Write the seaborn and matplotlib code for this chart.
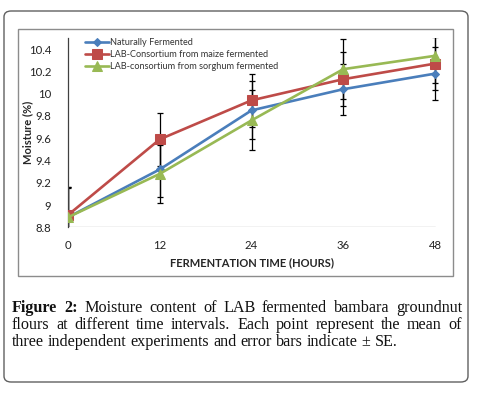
import numpy as np
import pandas as pd
import matplotlib
matplotlib.use("Agg")
import matplotlib.pyplot as plt
import seaborn as sns
from matplotlib.patches import FancyBboxPatch, Rectangle

# data
time_h = [0, 12, 24, 36, 48]
natural = [8.89, 9.32, 9.85, 10.04, 10.18]
maize = [8.91, 9.59, 9.94, 10.13, 10.27]
sorghum = [8.89, 9.28, 9.76, 10.22, 10.34]
se_natural = [0.26, 0.25, 0.26, 0.23, 0.24]
se_maize = [0.25, 0.24, 0.24, 0.24, 0.24]
se_sorghum = [0.27, 0.26, 0.27, 0.27, 0.245]
y_ticks = [8.8, 9.0, 9.2, 9.4, 9.6, 9.8, 10.0, 10.2, 10.4]
y_ticklabels = ["8.8", "9", "9.2", "9.4", "9.6", "9.8", "10", "10.2", "10.4"]

names = ["Naturally Fermented",
         "LAB-Consortium from maize fermented",
         "LAB-consortium from sorghum fermented"]
colors = ["#4A7EBB", "#BE4B48", "#98B954"]
markers = ["D", "s", "^"]
msizes = [4, 6.5, 6.5]

df = pd.DataFrame({
    "time": time_h * 3,
    "moisture": natural + maize + sorghum,
    "se": se_natural + se_maize + se_sorghum,
    "group": [n for n in names for _ in time_h],
})

sns.set_style("white")
plt.rcParams["font.family"] = ["Lato", "DejaVu Sans"]

W, H = 480, 393
fig = plt.figure(figsize=(W / 100, H / 100), dpi=100)


def fx(px):
    return px / W


def fy(py):
    return 1 - py / H


# outer rounded box and inner chart frame
fig.patches.append(FancyBboxPatch((fx(4), fy(382)), fx(464), (382 - 11) / H,
                                  boxstyle="round,pad=0,rounding_size=0.015",
                                  transform=fig.transFigure, fill=False,
                                  edgecolor="#606060", linewidth=1.0))
fig.patches.append(Rectangle((fx(18), fy(276)), fx(435), (276 - 29) / H,
                             transform=fig.transFigure, fill=False,
                             edgecolor="#8c8c8c", linewidth=1.0))

# axes: x 0 at px 68, 48 at px 435 ; y 8.8 at px 227.3, 10.5 at px 38
x0, x48 = 68, 435
ppu = (x48 - x0) / 48
ax_w = 49 * ppu
ax_h = 227.3 - 38
ax = fig.add_axes([fx(x0), fy(227.3), ax_w / W, ax_h / H])

for name, c, m, ms in zip(names, colors, markers, msizes):
    sub = df[df["group"] == name]
    ax.errorbar(sub["time"], sub["moisture"], yerr=sub["se"], fmt="none",
                ecolor="black", elinewidth=0.9, capsize=2.2, capthick=0.9,
                zorder=2)
    sns.lineplot(data=sub, x="time", y="moisture", ax=ax, color=c,
                 marker=m, markersize=ms, markeredgecolor=c, linewidth=1.9,
                 label=name, zorder=3)

ax.set_xlim(0, 49)
ax.set_ylim(8.8, 10.5)
ax.set_yticks(y_ticks)
ax.set_yticklabels(y_ticklabels)
ax.set_xticks(time_h)
ax.set_xticklabels([str(t) for t in time_h])
ax.tick_params(axis="both", length=0, labelsize=8.2, colors="#222222")
ax.tick_params(axis="y", pad=12)
ax.tick_params(axis="x", pad=9)
for s in ["top", "right", "bottom"]:
    ax.spines[s].set_visible(False)
ax.spines["left"].set_color("#404040")
ax.spines["left"].set_linewidth(0.9)
ax.axhline(8.8, xmin=0, xmax=48 / 49, color="#bfbfbf", linewidth=1.0,
           zorder=1)

ax.set_xlabel("FERMENTATION TIME (HOURS)", fontsize=8, fontweight="bold")
ax.set_ylabel("Moisture (%)", fontsize=8, fontweight="bold")
ax.xaxis.set_label_coords((251.5 - x0) / ax_w, -(263 - 227.3) / ax_h)
ax.yaxis.set_label_coords(-(x0 - 28) / ax_w, 0.5)
ax.xaxis.label.set_va("center")
ax.yaxis.label.set_va("center")

leg = ax.legend(loc="upper left", bbox_to_anchor=(0.035, 1.02), frameon=False,
                fontsize=6.6, handlelength=2.6, handletextpad=0.1,
                labelspacing=0.35, borderaxespad=0)
for t in leg.get_texts():
    t.set_color("#333333")

# caption, justified by hand
cap_lines = [
    "Figure 2: Moisture content of LAB fermented bambara groundnut",
    "flours at different time intervals. Each point represent the mean of",
    "three independent experiments and error bars indicate \u00b1 SE.",
]
cap_base = [312, 329, 346]
left, right = 12, 462
fig.canvas.draw()
renderer = fig.canvas.get_renderer()
fsz = 11.6
for li, (line, py) in enumerate(zip(cap_lines, cap_base)):
    words = line.split(" ")
    objs = []
    for wi, w in enumerate(words):
        bold = li == 0 and wi < 2
        t = fig.text(0, fy(py), w, fontsize=fsz, family="Liberation Serif",
                     fontweight="bold" if bold else "normal",
                     va="baseline", ha="left", color="#111111")
        objs.append(t)
    widths = [o.get_window_extent(renderer).width for o in objs]
    if li < len(cap_lines) - 1:
        gap = (right - left - sum(widths)) / (len(words) - 1)
    else:
        gap = fsz * 0.25 / 0.72
    x = left
    for o, wd in zip(objs, widths):
        o.set_x(fx(x))
        x += wd + gap

fig.savefig("out.png", dpi=100)
